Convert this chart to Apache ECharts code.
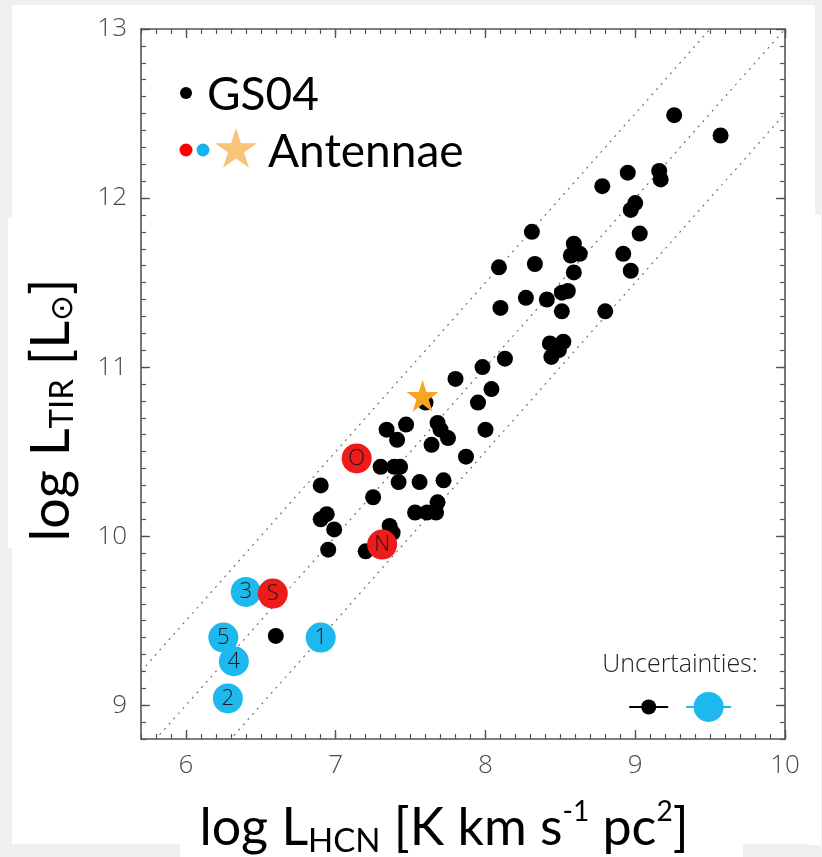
<!DOCTYPE html>
<html>
<head>
<meta charset="utf-8">
<script src="https://cdn.jsdelivr.net/npm/echarts@6/dist/echarts.min.js"></script>
<style>
  html, body { margin: 0; padding: 0; background: #f0f0f0; }
  #chart { width: 822px; height: 857px; }
</style>
</head>
<body>
<div id="chart"></div>
<script>
// GS04 galaxies: log L_HCN (x) and log L_TIR (y)
const gsX = [9.26, 9.57, 8.95, 9.16, 9.17, 8.78, 9.00, 8.97, 8.31, 9.03,
             8.59, 8.57, 8.63, 8.33, 8.09, 8.92, 8.59, 8.97, 8.27, 8.41,
             8.51, 8.55, 8.10, 8.51, 8.80, 8.43, 8.52, 8.44, 8.49, 8.13,
             7.98, 7.80, 7.60, 8.04, 7.95, 7.47, 7.68, 7.70, 7.75, 7.34,
             7.41, 8.00, 7.64, 7.87, 7.30, 7.39, 7.43, 7.42, 7.56, 7.72,
             6.90, 7.25, 7.68, 7.53, 7.61, 7.67, 6.94, 6.90, 6.99, 7.36,
             7.38, 7.20, 6.95, 6.60];
const gsY = [12.49, 12.37, 12.15, 12.16, 12.11, 12.07, 11.97, 11.93, 11.80, 11.79,
             11.73, 11.66, 11.67, 11.61, 11.59, 11.67, 11.56, 11.57, 11.41, 11.40,
             11.44, 11.45, 11.35, 11.33, 11.33, 11.14, 11.15, 11.06, 11.10, 11.05,
             11.00, 10.93, 10.79, 10.87, 10.79, 10.66, 10.67, 10.63, 10.58, 10.63,
             10.57, 10.63, 10.54, 10.47, 10.41, 10.41, 10.41, 10.32, 10.32, 10.33,
             10.30, 10.23, 10.20, 10.14, 10.14, 10.14, 10.13, 10.10, 10.04, 10.06,
             10.02, 9.91, 9.92, 9.41];

// Antennae: nuclei / overlap regions (red) and numbered regions (blue)
const redNames = ['O', 'N', 'S'];
const redX = [7.14, 7.31, 6.58];
const redY = [10.46, 9.95, 9.66];
const blueNames = ['5', '4', '2', '3', '1'];
const blueX = [6.25, 6.32, 6.28, 6.40, 6.90];
const blueY = [9.40, 9.26, 9.04, 9.67, 9.40];
// Antennae integrated value
const starX = [7.58];
const starY = [10.83];

// Offsets of the dotted constant-ratio lines: log L_TIR = log L_HCN + offset
const ratioOffsets = [3.5, 3.0, 2.5];

// Typical uncertainties (half-widths in dex)
const errX = [9.09, 9.49];
const errY = [8.99, 8.99];
const errHalf = [0.13, 0.15];

const xRange = [5.7, 10];
const yRange = [8.8, 13];
const xTickValues = [6, 7, 8, 9, 10];
const yTickValues = [9, 10, 11, 12, 13];

const STAR = 'path://M50,0 L61.23,34.55 L97.55,34.55 L68.17,55.9 L79.39,90.45 L50,69.1 L20.61,90.45 L31.83,55.9 L2.45,34.55 L38.77,34.55 Z';
const AXIS_COLOR = '#555';
const RED = '#ee1b1b';
const BLUE = '#1db8ee';
const ORANGE = '#f5a524';
const TITLE_FONT = 'Lato, "Open Sans", sans-serif';
const THIN_FONT = '"Open Sans", Lato, sans-serif';

function zip(xs, ys) { return xs.map((x, i) => [x, ys[i]]); }

// five-pointed star outline for the legend icon
function starPoints(cx, cy, r) {
  const pts = [];
  for (let k = 0; k < 10; k++) {
    const a = -Math.PI / 2 + k * Math.PI / 5;
    const rr = k % 2 === 0 ? r : r * 0.382;
    pts.push([cx + rr * Math.cos(a), cy + rr * Math.sin(a)]);
  }
  return pts;
}

function majorAxis(range, ticks, position, showLabels) {
  return {
    type: 'value', min: range[0], max: range[1], position: position,
    axisLine: { show: true, onZero: false, lineStyle: { color: AXIS_COLOR, width: 1.6 } },
    axisTick: { show: true, inside: true, length: 9, customValues: ticks,
                lineStyle: { color: AXIS_COLOR, width: 1.4 } },
    axisLabel: { show: showLabels, customValues: ticks, margin: 14,
                 color: '#4a4a4a', fontSize: 26, fontFamily: THIN_FONT, fontWeight: 300 },
    splitLine: { show: false }
  };
}
function minorAxis(range, position) {
  return {
    type: 'value', min: range[0], max: range[1], interval: 0.1, position: position,
    axisLine: { show: false, onZero: false },
    axisTick: { show: true, inside: true, length: 5, lineStyle: { color: AXIS_COLOR, width: 1.2 } },
    axisLabel: { show: false },
    splitLine: { show: false }
  };
}

const ratioSeries = ratioOffsets.map(off => ({
  type: 'line',
  data: xRange.map(x => [x, x + off]),
  symbol: 'none', silent: true, clip: true,
  lineStyle: { color: '#666', width: 1.1, type: [2, 5] },
  z: 1
}));

const errSeries = errX.map((x, i) => ({
  type: 'line',
  data: [[x - errHalf[i], errY[i]], [x + errHalf[i], errY[i]]],
  symbol: 'none', silent: true,
  lineStyle: { color: i === 0 ? '#000' : BLUE, width: 2 },
  z: 3
}));

function circleLabel() {
  return { show: true, position: 'inside', formatter: p => p.data.name,
           color: '#1a1a1a', fontSize: 22, fontFamily: THIN_FONT, fontWeight: 300 };
}

const option = {
  backgroundColor: 'transparent',
  animation: false,
  grid: { left: 141, right: 37, top: 29, bottom: 118, containLabel: false, outerBoundsMode: 'none' },
  xAxis: [
    majorAxis(xRange, xTickValues, 'bottom', true),
    minorAxis(xRange, 'bottom'),
    majorAxis(xRange, xTickValues, 'top', false),
    minorAxis(xRange, 'top')
  ],
  yAxis: [
    majorAxis(yRange, yTickValues, 'left', true),
    minorAxis(yRange, 'left'),
    majorAxis(yRange, yTickValues, 'right', false),
    minorAxis(yRange, 'right')
  ],
  series: [
    ...ratioSeries,
    {
      type: 'scatter', data: zip(gsX, gsY), symbol: 'circle', symbolSize: 16,
      itemStyle: { color: '#000', opacity: 1 }, z: 4
    },
    {
      type: 'scatter', symbolSize: 30, symbol: 'circle',
      data: blueX.map((x, i) => ({ value: [x, blueY[i]], name: blueNames[i] })),
      itemStyle: { color: BLUE, opacity: 1 }, label: circleLabel(), z: 5
    },
    {
      type: 'scatter', symbolSize: 30, symbol: 'circle',
      data: redX.map((x, i) => ({ value: [x, redY[i]], name: redNames[i] })),
      itemStyle: { color: RED, opacity: 1 }, label: circleLabel(), z: 6
    },
    {
      type: 'scatter', symbol: STAR, symbolSize: 32,
      data: zip(starX, starY), itemStyle: { color: ORANGE, opacity: 1 }, z: 7
    },
    ...errSeries,
    {
      type: 'scatter', symbol: 'circle',
      data: zip(errX, errY),
      symbolSize: (v, p) => p.dataIndex === 0 ? 15 : 30,
      itemStyle: { color: p => p.dataIndex === 0 ? '#000' : BLUE, opacity: 1 },
      z: 4
    }
  ],
  graphic: [
    // white panels
    { type: 'rect', z: -100, shape: { x: 12, y: 5, width: 803, height: 839 }, style: { fill: '#fff' } },
    { type: 'rect', z: -100, shape: { x: 808, y: 215, width: 13, height: 630 }, style: { fill: '#fff' } },
    { type: 'rect', z: -100, shape: { x: 8, y: 218, width: 60, height: 330 }, style: { fill: '#fff' } },
    { type: 'rect', z: -100, shape: { x: 180, y: 800, width: 563, height: 57 }, style: { fill: '#fff' } },
    // y-axis title
    {
      type: 'text', x: 52, y: 410, rotation: Math.PI / 2,
      style: {
        text: 'log L{sub|TIR} [L{sun|⊙}]',
        fill: '#000', fontSize: 54, fontFamily: TITLE_FONT,
        align: 'center', verticalAlign: 'middle',
        rich: {
          sub: { fontSize: 33, lineHeight: 32, verticalAlign: 'bottom', fontFamily: TITLE_FONT },
          sun: { fontSize: 31, lineHeight: 40, verticalAlign: 'bottom', fontFamily: '"DejaVu Sans", sans-serif' }
        }
      }
    },
    // x-axis title
    {
      type: 'text', x: 444, y: 828,
      style: {
        text: 'log L{sub|HCN} [K km s{sup|-1} pc{sup|2}]',
        fill: '#000', fontSize: 52, lineHeight: 60, fontFamily: TITLE_FONT,
        align: 'center', verticalAlign: 'middle',
        rich: {
          sub: { fontSize: 33, lineHeight: 32, verticalAlign: 'bottom', fontFamily: TITLE_FONT },
          sup: { fontSize: 28, lineHeight: 44, verticalAlign: 'top', fontFamily: TITLE_FONT }
        }
      }
    },
    // legend
    { type: 'circle', shape: { cx: 186, cy: 93, r: 6 }, style: { fill: '#000' } },
    { type: 'text', x: 207, y: 95, style: { text: 'GS04', fill: '#000', fontSize: 46, fontFamily: TITLE_FONT, verticalAlign: 'middle' } },
    { type: 'circle', shape: { cx: 186, cy: 150, r: 6.5 }, style: { fill: '#ff0000' } },
    { type: 'circle', shape: { cx: 203, cy: 150, r: 6.5 }, style: { fill: '#17b4ec' } },
    { type: 'polygon', shape: { points: starPoints(236, 150, 22) }, style: { fill: '#f8c47a' } },
    { type: 'text', x: 268, y: 152, style: { text: 'Antennae', fill: '#000', fontSize: 46, fontFamily: TITLE_FONT, verticalAlign: 'middle' } },
    // uncertainties caption
    { type: 'text', x: 680, y: 665, style: { text: 'Uncertainties:', fill: '#222', fontSize: 25, fontFamily: THIN_FONT, fontWeight: 300, align: 'center', verticalAlign: 'middle' } }
  ]
};

const chart = echarts.init(document.getElementById('chart'), null, { renderer: 'canvas' });
chart.setOption(option);
</script>
</body>
</html>
